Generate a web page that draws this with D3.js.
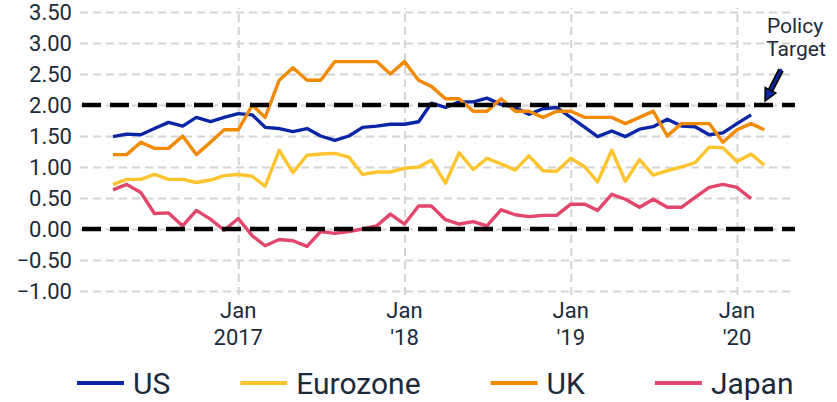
<!DOCTYPE html>
<html>
<head>
<meta charset="utf-8">
<script src="https://cdn.jsdelivr.net/npm/d3@7"></script>
<style>
  body { margin: 0; background: #fff; }
  svg { display: block; font-family: Roboto, "Noto Sans", sans-serif; }
</style>
</head>
<body>
<div id="chart"></div>
<script>
// monthly readings, April 2016 onwards
var startMonth = new Date(2016, 3, 1);

var usValues = [1.49, 1.53, 1.52, 1.62, 1.72, 1.66, 1.80, 1.73, 1.80, 1.86, 1.84, 1.64,
  1.62, 1.57, 1.62, 1.50, 1.43, 1.50, 1.64, 1.66, 1.69, 1.69, 1.73, 2.03,
  1.96, 2.05, 2.05, 2.11, 2.01, 1.96, 1.85, 1.94, 1.96, 1.80, 1.64, 1.49,
  1.58, 1.49, 1.61, 1.65, 1.77, 1.66, 1.65, 1.52, 1.55, 1.70, 1.84];

var euroValues = [0.72, 0.80, 0.80, 0.88, 0.80, 0.80, 0.75, 0.79, 0.86, 0.88, 0.85, 0.69,
  1.27, 0.91, 1.19, 1.21, 1.22, 1.16, 0.88, 0.92, 0.92, 0.98, 1.00, 1.11,
  0.74, 1.23, 0.96, 1.14, 1.05, 0.95, 1.18, 0.94, 0.93, 1.14, 1.00, 0.76,
  1.27, 0.77, 1.12, 0.87, 0.94, 1.00, 1.07, 1.32, 1.31, 1.09, 1.21, 1.03];

var ukValues = [1.2, 1.2, 1.4, 1.3, 1.3, 1.5, 1.2, 1.4, 1.6, 1.6, 2.0, 1.8,
  2.4, 2.6, 2.4, 2.4, 2.7, 2.7, 2.7, 2.7, 2.5, 2.7, 2.4, 2.3,
  2.1, 2.1, 1.9, 1.9, 2.1, 1.9, 1.9, 1.8, 1.9, 1.9, 1.8, 1.8,
  1.8, 1.7, 1.8, 1.9, 1.5, 1.7, 1.7, 1.7, 1.4, 1.6, 1.7, 1.6];

var japanValues = [0.63, 0.72, 0.59, 0.25, 0.26, 0.05, 0.30, 0.16, -0.02, 0.17, -0.11, -0.27,
  -0.17, -0.19, -0.28, -0.04, -0.07, -0.04, 0.00, 0.05, 0.24, 0.08, 0.37, 0.37,
  0.15, 0.08, 0.12, 0.05, 0.31, 0.23, 0.20, 0.22, 0.22, 0.40, 0.40, 0.30,
  0.56, 0.48, 0.35, 0.48, 0.35, 0.35, 0.51, 0.67, 0.72, 0.67, 0.49];

var seriesNames = ["US", "Eurozone", "UK", "Japan"];
var seriesColors = ["#0a26a6", "#fdc42e", "#f18a00", "#e2466a"];
var seriesValues = [usValues, euroValues, ukValues, japanValues];

var yTicks = [-1, -0.5, 0, 0.5, 1, 1.5, 2, 2.5, 3, 3.5];
var targetLevels = [2, 0];
var xTickDates = [new Date(2017, 0, 1), new Date(2018, 0, 1), new Date(2019, 0, 1), new Date(2020, 0, 1)];
var xTickLabels = [["Jan", "2017"], ["Jan", "'18"], ["Jan", "'19"], ["Jan", "'20"]];

var width = 837,
  height = 402,
  plotLeft = 80,
  plotRight = 795,
  textColor = "#1b2a3a";

var svg = d3.select("#chart").append("svg")
  .attr("width", width)
  .attr("height", height);

var x = d3.scaleTime()
  .domain([startMonth, new Date(2020, 0, 1)])
  .range([113, 737]);

var y = d3.scaleLinear()
  .domain([-1, 3.5])
  .range([291, 12]);

// vertical grid at each January
var xGrid = svg.append("g")
  .attr("transform", "translate(0,295)")
  .call(d3.axisBottom(x).tickValues(xTickDates).tickSize(-287).tickFormat(""));
xGrid.select(".domain").remove();
xGrid.selectAll("line")
  .attr("stroke", "#d4d4d4").attr("stroke-width", 2).attr("stroke-dasharray", "8,5");

// y axis + horizontal grid
var yAxis = svg.append("g")
  .attr("transform", "translate(" + plotLeft + ",0)")
  .call(d3.axisLeft(y).tickValues(yTicks).tickSize(-(plotRight - plotLeft)).tickPadding(8)
    .tickFormat(d3.format(".2f")));
yAxis.select(".domain").remove();
yAxis.selectAll("line")
  .attr("stroke", "#d4d4d4").attr("stroke-width", 2).attr("stroke-dasharray", "8,5");
yAxis.selectAll("text")
  .attr("fill", textColor).style("font-size", "22px").style("font-family", "Roboto");

// x labels, two lines each
var xLab = svg.append("g").selectAll("text")
  .data(xTickDates)
  .enter().append("text")
  .attr("text-anchor", "middle")
  .attr("fill", textColor)
  .style("font-size", "22px");
xLab.append("tspan")
  .attr("x", function (d) { return x(d); })
  .attr("y", 318)
  .text(function (d, i) { return xTickLabels[i][0]; });
xLab.append("tspan")
  .attr("x", function (d) { return x(d); })
  .attr("y", 345)
  .text(function (d, i) { return xTickLabels[i][1]; });

// series lines
var line = d3.line()
  .x(function (d, i) { return x(d3.timeMonth.offset(startMonth, i)); })
  .y(function (d) { return y(d); });

svg.append("g").selectAll("path")
  .data(seriesValues)
  .enter().append("path")
  .attr("d", line)
  .attr("fill", "none")
  .attr("stroke", function (d, i) { return seriesColors[i]; })
  .attr("stroke-width", 3.4)
  .attr("stroke-linejoin", "round");

// policy target lines on top
svg.append("g").selectAll("line")
  .data(targetLevels)
  .enter().append("line")
  .attr("x1", plotLeft + 2).attr("x2", plotRight)
  .attr("y1", function (d) { return y(d); })
  .attr("y2", function (d) { return y(d); })
  .attr("stroke", "#000")
  .attr("stroke-width", 4.5)
  .attr("stroke-dasharray", "19,9");

// annotation
var note = svg.append("text")
  .attr("text-anchor", "middle")
  .attr("fill", textColor)
  .style("font-size", "21px");
note.append("tspan").attr("x", 795).attr("y", 33).text("Policy");
note.append("tspan").attr("x", 796).attr("y", 56).text("Target");

var tip = [765, 101], tail = [781, 70];
var dx = tip[0] - tail[0], dy = tip[1] - tail[1], len = Math.sqrt(dx * dx + dy * dy);
var ux = dx / len, uy = dy / len, px = -uy, py = ux;
var base = [tip[0] - 12 * ux, tip[1] - 12 * uy];
svg.append("line")
  .attr("x1", tail[0]).attr("y1", tail[1]).attr("x2", base[0]).attr("y2", base[1])
  .attr("stroke", "#000").attr("stroke-width", 6);
svg.append("line")
  .attr("x1", tail[0] - ux).attr("y1", tail[1] - uy).attr("x2", base[0]).attr("y2", base[1])
  .attr("stroke", "#0a26a6").attr("stroke-width", 2.5);
svg.append("path")
  .attr("d", "M" + tip + "L" + [base[0] + 6 * px, base[1] + 6 * py] + "L" + [base[0] - 6 * px, base[1] - 6 * py] + "Z")
  .attr("fill", "#0a26a6").attr("stroke", "#000").attr("stroke-width", 1.5)
  .attr("stroke-linejoin", "miter");

// legend
var legend = svg.append("g").attr("transform", "translate(0,383)");
var items = legend.selectAll("g")
  .data(seriesNames)
  .enter().append("g");
items.append("line")
  .attr("x1", 0).attr("x2", 47)
  .attr("stroke", function (d, i) { return seriesColors[i]; })
  .attr("stroke-width", 4);
items.append("text")
  .attr("x", 56)
  .attr("dy", "0.36em")
  .attr("fill", textColor)
  .style("font-size", "30px")
  .text(function (d) { return d; });

var cursor = 77;
items.each(function () {
  var g = d3.select(this);
  g.attr("transform", "translate(" + cursor + ",0)");
  cursor += 56 + g.select("text").node().getComputedTextLength() + 70;
});
</script>
</body>
</html>
